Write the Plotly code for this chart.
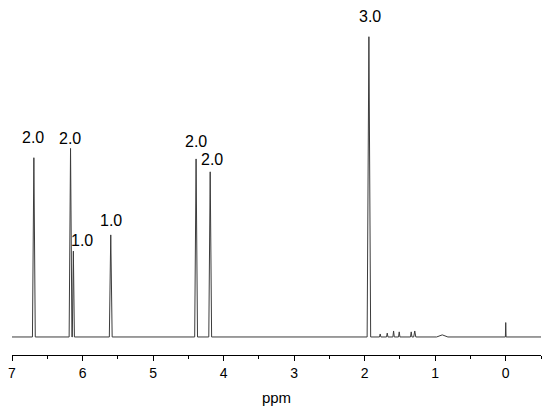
import plotly.graph_objects as go

# Peak list (chemical shift, relative intensity, half-width at base)
peak_ppm = [6.69, 6.17, 6.13, 5.60, 4.39, 4.19, 1.94, 1.78, 1.68, 1.59, 1.51, 1.34, 1.29, 0.90, 0.00]
peak_height = [59.7, 62.8, 28.6, 34.0, 59.3, 55.0, 100.0, 1.0, 1.3, 2.0, 1.7, 1.7, 2.0, 0.7, 4.8]
peak_halfwidth = [0.02, 0.02, 0.015, 0.02, 0.02, 0.02, 0.025, 0.01, 0.01, 0.01, 0.01, 0.01, 0.015, 0.08, 0.005]

# Integral labels
label_peak = [6.69, 6.17, 6.13, 5.60, 4.39, 4.19, 1.94]
label_text = ["2.0", "2.0", "1.0", "1.0", "2.0", "2.0", "3.0"]
label_dx = [-1, -1, 9, 0, 0, 2, 1]
label_dy = [20, 10, 11, 14, 17, 12, 20]

x_start, x_end = 7.0, -0.5

xs = [x_start]
ys = [0.0]
for p, h, w in zip(peak_ppm, peak_height, peak_halfwidth):
    xs += [p + w, p, p - w]
    ys += [0.0, h, 0.0]
xs.append(x_end)
ys.append(0.0)

fig = go.Figure()
fig.add_trace(go.Scatter(x=xs, y=ys, mode="lines",
                         line=dict(color="#3c3c3c", width=1),
                         hoverinfo="skip", showlegend=False))

height_of = dict(zip(peak_ppm, peak_height))
for p, t, dx, dy in zip(label_peak, label_text, label_dx, label_dy):
    fig.add_annotation(x=p, y=height_of[p], text=t, showarrow=False,
                       xanchor="center", yanchor="middle",
                       xshift=dx, yshift=dy,
                       font=dict(family="Arial", size=16, color="black"))

fig.update_layout(
    width=550, height=413,
    margin=dict(l=12, r=9, t=10, b=58),
    paper_bgcolor="white", plot_bgcolor="white",
    font=dict(family="Arial", color="black"),
    xaxis=dict(range=[7.0, -0.5], showgrid=False, zeroline=False,
               showline=True, linecolor="black", linewidth=1,
               ticks="outside", ticklen=5, tickwidth=1, tickcolor="black",
               tickvals=[7, 6, 5, 4, 3, 2, 1, 0],
               ticktext=["7", "6", "5", "4", "3", "2", "1", "0"],
               minor=dict(tickvals=[6.5, 5.5, 4.5, 3.5, 2.5, 1.5, 0.5, -0.5],
                          ticks="outside", ticklen=3, tickcolor="black"),
               tickfont=dict(size=14),
               title=dict(text="ppm", font=dict(size=15), standoff=12)),
    yaxis=dict(range=[-6.0, 108.9], visible=False),
)

fig.write_html("out.html",
               config={"displayModeBar": False, "staticPlot": True},
               post_script="document.body.style.margin='0';document.body.style.overflow='hidden';")
